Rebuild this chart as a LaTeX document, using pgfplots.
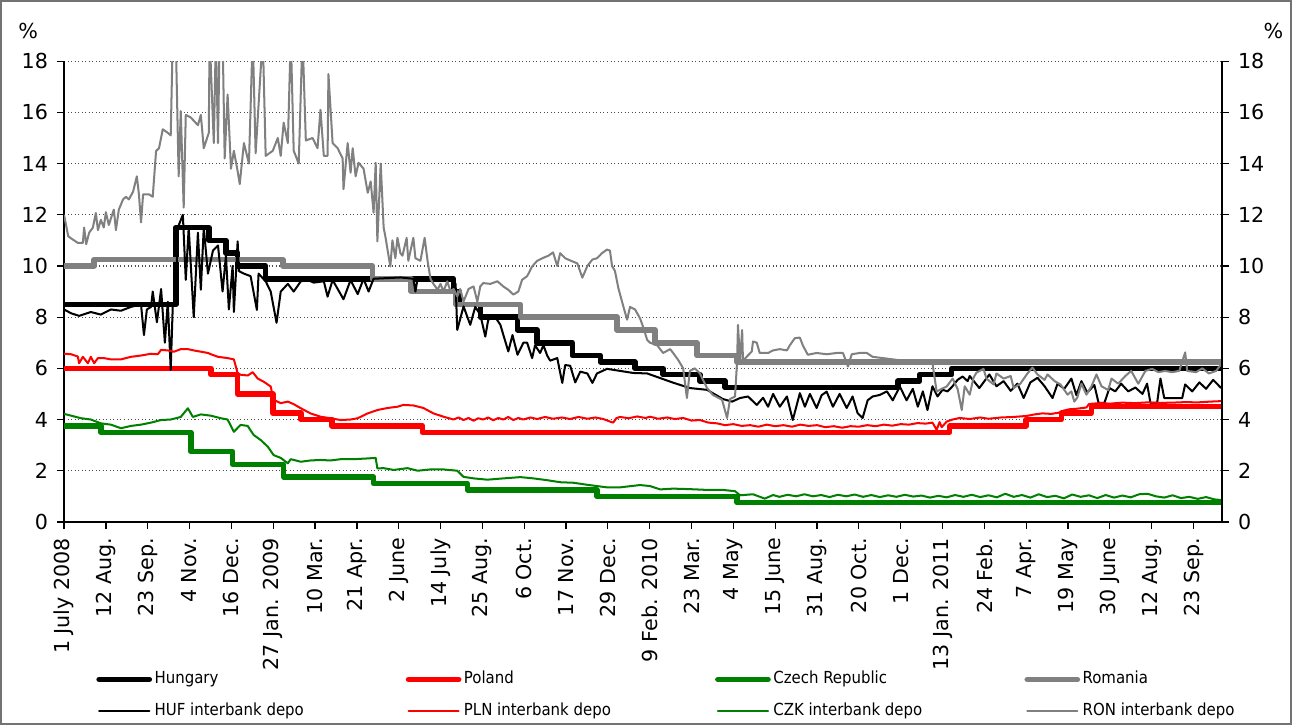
\documentclass[border=0pt]{standalone}
\usepackage{pgfplots}
\pgfplotsset{compat=1.18}
\usepackage{fontspec}
\setmainfont{DejaVu Sans}
\newfontfamily\legfont{DejaVu Sans Condensed}
\definecolor{czg}{RGB}{0,128,0}
\definecolor{rog}{RGB}{128,128,128}
\pgfplotsset{
  base/.style={scale only axis, width=16.16cm, height=6.43cm,
    xmin=0, xmax=27.68, ymin=0, ymax=18, ytick={0,2,...,18},
    tick align=outside, major tick length=0.1cm,
    tick style={black, line width=0.5pt}, axis line style={line width=0.6pt},
    ticklabel style={font=\fontsize{8.2}{9.5}\selectfont},
    /pgf/number format/assume math mode=true}
}
\begin{document}
\begin{tikzpicture}
\begin{axis}[base, axis x line*=bottom, axis y line*=left,
  ymajorgrids, grid style={densely dotted, black!70, line width=0.5pt},
  xtick={0,...,27},
  xticklabels={1 July 2008, 12 Aug., 23 Sep., 4 Nov., 16 Dec., 27 Jan. 2009, 10 Mar., 21 Apr., 2 June, 14 July, 25 Aug., 6 Oct., 17 Nov., 29 Dec., 9 Feb. 2010, 23 Mar., 4 May, 15 June, 31 Aug., 20 Oct., 1 Dec., 13 Jan. 2011, 24 Feb., 7 Apr., 19 May, 30 June, 12 Aug., 23 Sep.},
  xticklabel style={rotate=90, anchor=east},
  no markers, line join=round,
  legend columns=4, legend cell align=left,
  legend image code/.code={\draw[#1, line cap=round] (0cm,0cm) -- (0.7cm,0cm);},
  legend style={at={(0.0275,-0.3765)}, anchor=west, draw=none, fill=none,
    inner sep=0pt, row sep=4.15pt, font=\legfont\fontsize{6.6}{7.5}\selectfont,
    nodes={inner sep=1pt, text height=5pt, text depth=1.5pt}},
]
% policy rates
\addplot[black, line width=2.2pt, const plot] coordinates {(0,8.5)(2.67,11.5)(3.46,11)(3.87,10.5)(4.15,10)(4.82,9.5)(9.31,9)(9.45,8.5)(9.95,8)(10.84,7.5)(11.31,7)(12.15,6.5)(12.82,6.25)(13.65,6)(14.32,5.75)(15.2,5.5)(15.8,5.25)(19.93,5.5)(20.45,5.75)(21.22,6)(27.68,6)};
\addlegendentry{\makebox[3.47cm][l]{Hungary}}
\addplot[red, line width=2.2pt, const plot] coordinates {(0,6)(3.51,5.75)(4.15,5)(4.99,4.25)(5.66,4)(6.4,3.75)(8.57,3.5)(21.17,3.75)(23.0,4)(23.84,4.25)(24.56,4.5)(27.68,4.5)};
\addlegendentry{\makebox[3.47cm][l]{Poland}}
\addplot[czg, line width=2.2pt, const plot] coordinates {(0,3.75)(0.88,3.5)(3.03,2.75)(4.03,2.25)(5.25,1.75)(7.4,1.5)(9.64,1.25)(12.74,1.0)(16.09,0.75)(27.68,0.75)};
\addlegendentry{\makebox[3.47cm][l]{Czech Republic}}
\addplot[rog, line width=2.2pt, const plot] coordinates {(0,10)(0.72,10.25)(5.23,10)(7.37,9.5)(8.3,9)(9.36,8.5)(10.91,8)(13.22,7.5)(14.13,7)(15.13,6.5)(16.09,6.25)(27.68,6.25)};
\addlegendentry{Romania}
% interbank deposit rates
\addplot[black, line width=0.8pt] coordinates {(0,8.3)(0.17,8.15)(0.36,8.05)(0.64,8.2)(0.88,8.1)(1.12,8.3)(1.36,8.25)(1.60,8.4)(1.84,8.5)(1.91,7.3)(1.98,8.3)(2.08,8.4)(2.12,9.0)(2.22,7.8)(2.32,9.1)(2.41,7.0)(2.48,8.6)(2.55,5.94)(2.60,8.5)(2.67,8.5)(2.72,11.5)(2.84,12.0)(2.91,9.46)(2.98,11.5)(3.10,8.0)(3.20,11.3)(3.27,9.07)(3.34,11.5)(3.44,9.7)(3.56,10.6)(3.68,10.8)(3.79,9.0)(3.87,10.4)(3.94,8.3)(4.03,10.0)(4.06,8.2)(4.15,10.96)(4.18,9.8)(4.30,9.7)(4.46,9.6)(4.61,8.28)(4.65,9.7)(4.82,9.4)(4.94,9.0)(5.08,7.78)(5.18,9.0)(5.35,9.3)(5.49,9.0)(5.66,9.4)(5.82,9.45)(5.97,9.35)(6.21,9.4)(6.30,8.8)(6.42,9.45)(6.68,8.7)(6.85,9.45)(7.02,8.9)(7.16,9.5)(7.28,9.0)(7.40,9.5)(8.04,9.55)(8.35,9.5)(8.40,9.0)(8.45,9.5)(9.24,9.5)(9.36,9.3)(9.40,7.5)(9.55,8.42)(9.71,7.7)(9.83,8.4)(9.95,8.1)(10.07,7.24)(10.14,7.9)(10.31,8.0)(10.43,7.7)(10.62,6.66)(10.72,7.3)(10.84,6.53)(10.98,7.0)(11.07,7.0)(11.19,6.4)(11.26,6.9)(11.38,6.6)(11.46,6.9)(11.55,6.5)(11.62,6.3)(11.79,6.4)(11.91,5.43)(11.98,6.13)(12.10,6.1)(12.22,5.45)(12.34,5.87)(12.51,5.8)(12.63,5.43)(12.74,5.8)(12.98,5.98)(13.29,5.9)(13.60,5.82)(13.94,5.8)(14.56,5.44)(14.96,5.23)(15.37,5.16)(15.75,4.8)(15.97,4.7)(16.16,4.84)(16.35,4.9)(16.56,4.57)(16.71,4.85)(16.83,4.5)(16.95,5.0)(17.11,4.5)(17.28,4.9)(17.42,3.98)(17.59,5.03)(17.71,4.5)(17.83,5.0)(17.99,4.45)(18.11,4.95)(18.23,5.09)(18.38,4.5)(18.54,5.0)(18.71,4.45)(18.85,4.9)(18.97,4.25)(19.09,4.06)(19.21,4.75)(19.33,4.9)(19.50,4.96)(19.67,5.1)(19.81,4.75)(19.98,5.29)(20.14,4.75)(20.29,5.2)(20.41,4.5)(20.53,5.1)(20.64,4.37)(20.76,5.3)(20.88,4.9)(21.00,5.16)(21.12,5.1)(21.24,5.3)(21.36,5.55)(21.48,5.68)(21.60,5.5)(21.65,5.7)(21.88,5.23)(22.12,5.76)(22.29,5.3)(22.46,5.5)(22.63,5.12)(22.79,5.4)(22.94,4.84)(23.10,5.45)(23.27,5.63)(23.44,5.3)(23.63,4.84)(23.75,5.4)(23.91,5.2)(24.08,5.6)(24.20,4.95)(24.32,5.5)(24.46,5.05)(24.63,5.35)(24.73,4.65)(24.87,4.65)(24.99,5.23)(25.13,5.1)(25.27,5.4)(25.44,5.1)(25.61,5.25)(25.78,5.0)(25.89,5.4)(25.97,4.65)(26.13,4.65)(26.21,5.6)(26.30,4.84)(26.73,4.84)(26.80,5.37)(26.97,5.1)(27.14,5.45)(27.30,5.2)(27.47,5.55)(27.66,5.23)};
\addlegendentry{\makebox[3.47cm][l]{HUF interbank depo}}
\addplot[red, line width=0.8pt] coordinates {(0,6.57)(0.17,6.55)(0.33,6.46)(0.36,6.2)(0.45,6.45)(0.57,6.2)(0.64,6.45)(0.72,6.2)(0.81,6.4)(0.95,6.4)(1.12,6.35)(1.36,6.35)(1.60,6.45)(1.84,6.5)(2.08,6.57)(2.24,6.55)(2.32,6.72)(2.48,6.7)(2.63,6.65)(2.79,6.75)(2.96,6.75)(3.10,6.7)(3.27,6.65)(3.44,6.6)(3.51,6.55)(3.68,6.45)(3.91,6.4)(4.06,6.35)(4.15,5.81)(4.22,5.75)(4.39,5.72)(4.51,5.85)(4.63,5.6)(4.77,5.48)(4.94,5.29)(5.01,4.77)(5.18,4.64)(5.35,4.7)(5.49,4.6)(5.66,4.44)(5.89,4.24)(6.13,4.11)(6.37,4.05)(6.61,3.98)(6.85,4.0)(7.02,4.05)(7.26,4.24)(7.49,4.37)(7.73,4.45)(7.97,4.5)(8.11,4.57)(8.35,4.55)(8.59,4.45)(8.83,4.24)(9.07,4.11)(9.31,4.0)(9.43,4.08)(9.55,3.98)(9.67,4.06)(9.79,3.95)(9.9,4.05)(10.02,4.0)(10.14,4.08)(10.26,3.97)(10.38,4.06)(10.5,4.0)(10.62,4.1)(10.74,3.98)(10.86,4.06)(10.98,4.0)(11.15,4.08)(11.31,4.02)(11.5,4.1)(11.69,4.03)(11.9,4.08)(12.1,4.02)(12.3,4.1)(12.51,4.03)(12.7,4.08)(12.89,4.02)(13.05,3.92)(13.13,3.88)(13.2,4.05)(13.29,4.1)(13.5,4.05)(13.7,4.12)(13.9,4.06)(14.01,4.11)(14.2,4.03)(14.42,4.08)(14.6,4.02)(14.8,4.06)(15.0,3.96)(15.2,3.98)(15.4,3.88)(15.61,3.85)(15.8,3.78)(16.0,3.82)(16.2,3.75)(16.4,3.78)(16.6,3.72)(16.8,3.8)(17.0,3.74)(17.2,3.78)(17.4,3.72)(17.6,3.8)(17.8,3.75)(18.0,3.78)(18.2,3.7)(18.4,3.74)(18.6,3.68)(18.8,3.74)(19.0,3.72)(19.2,3.78)(19.4,3.74)(19.6,3.8)(19.8,3.76)(20.0,3.82)(20.2,3.8)(20.4,3.86)(20.6,3.84)(20.76,3.88)(20.86,3.6)(20.93,3.9)(20.98,3.7)(21.10,3.92)(21.24,4.0)(21.41,4.06)(21.65,4.02)(21.9,4.08)(22.1,4.03)(22.4,4.08)(22.7,4.1)(23.01,4.14)(23.2,4.2)(23.39,4.24)(23.6,4.22)(23.79,4.27)(23.9,4.35)(24.03,4.4)(24.2,4.42)(24.44,4.47)(24.5,4.6)(24.58,4.62)(24.8,4.64)(25.0,4.62)(25.3,4.66)(25.6,4.64)(25.9,4.67)(26.2,4.65)(26.5,4.66)(26.8,4.68)(27.1,4.67)(27.4,4.7)(27.68,4.72)};
\addlegendentry{\makebox[3.47cm][l]{PLN interbank depo}}
\addplot[czg, line width=0.8pt] coordinates {(0,4.22)(0.17,4.15)(0.41,4.05)(0.64,4.0)(0.88,3.85)(1.12,3.8)(1.36,3.66)(1.60,3.75)(1.84,3.8)(2.08,3.88)(2.32,3.98)(2.55,4.0)(2.79,4.1)(2.96,4.44)(3.08,4.1)(3.27,4.2)(3.51,4.15)(3.75,4.05)(3.91,4.0)(4.06,3.52)(4.22,3.79)(4.39,3.75)(4.53,3.4)(4.70,3.2)(4.87,2.94)(5.01,2.61)(5.18,2.5)(5.35,2.29)(5.42,2.45)(5.66,2.35)(5.89,2.4)(6.13,2.42)(6.37,2.4)(6.61,2.45)(6.92,2.45)(7.26,2.48)(7.45,2.5)(7.49,2.09)(7.64,2.1)(7.88,2.03)(8.21,2.1)(8.45,2.0)(8.76,2.05)(9.07,2.05)(9.40,2.0)(9.55,1.76)(9.79,1.7)(10.12,1.65)(10.50,1.7)(10.91,1.75)(11.22,1.7)(11.55,1.63)(11.86,1.55)(12.17,1.53)(12.51,1.45)(12.74,1.4)(12.98,1.35)(13.29,1.35)(13.77,1.44)(14.01,1.4)(14.25,1.27)(14.56,1.3)(14.96,1.28)(15.37,1.25)(15.75,1.25)(16.04,1.2)(16.16,1.04)(16.47,1.08)(16.75,0.91)(16.95,1.05)(17.1,0.98)(17.3,1.06)(17.5,1.0)(17.7,1.08)(17.9,1.0)(18.1,1.05)(18.3,0.97)(18.5,1.06)(18.7,1.0)(18.9,1.07)(19.1,0.98)(19.3,1.05)(19.5,0.97)(19.7,1.04)(19.9,0.98)(20.1,1.06)(20.3,0.99)(20.5,1.03)(20.7,0.95)(20.9,1.02)(21.1,0.96)(21.3,1.05)(21.5,0.98)(21.7,1.06)(21.9,0.97)(22.1,1.04)(22.3,0.96)(22.5,1.1)(22.7,0.98)(22.9,1.05)(23.1,0.95)(23.3,1.08)(23.5,0.97)(23.7,1.02)(23.9,0.92)(24.1,1.07)(24.3,0.98)(24.5,1.04)(24.7,0.93)(24.9,1.05)(25.1,0.95)(25.3,1.03)(25.5,0.96)(25.7,1.08)(25.9,1.1)(26.1,1.0)(26.3,0.95)(26.5,1.04)(26.7,0.93)(26.9,0.98)(27.1,0.9)(27.3,0.97)(27.5,0.88)(27.68,0.85)};
\addlegendentry{\makebox[3.47cm][l]{CZK interbank depo}}
\addplot[rog, line width=0.8pt] coordinates {(0,12.0)(0.10,11.16)(0.21,11.03)(0.33,10.9)(0.45,10.9)(0.48,11.5)(0.53,10.85)(0.60,11.3)(0.69,11.5)(0.76,12.07)(0.81,11.4)(0.88,11.8)(0.95,11.5)(1.00,12.1)(1.07,11.6)(1.19,12.2)(1.24,11.4)(1.31,12.2)(1.41,12.6)(1.48,12.7)(1.55,12.6)(1.65,12.9)(1.74,13.5)(1.79,12.8)(1.84,11.7)(1.89,12.8)(2.03,12.8)(2.12,12.7)(2.20,14.49)(2.27,14.6)(2.36,15.34)(2.48,15.2)(2.55,15.1)(2.60,19)(2.67,19)(2.74,13.5)(2.79,16.05)(2.86,12.28)(2.91,15.9)(3.03,15.8)(3.20,15.5)(3.27,15.9)(3.34,14.6)(3.46,15.2)(3.48,19)(3.58,14.8)(3.63,19)(3.68,14.8)(3.72,19)(3.79,19)(3.84,14.2)(3.91,16.7)(3.99,13.8)(4.06,14.5)(4.15,13.7)(4.20,13.2)(4.30,14.8)(4.42,14.0)(4.51,19)(4.58,14.4)(4.75,19)(4.82,14.3)(4.99,14.5)(5.11,15.0)(5.18,14.3)(5.25,15.6)(5.35,14.8)(5.42,19)(5.49,14.5)(5.61,14.0)(5.70,19)(5.78,14.9)(5.94,15.0)(6.06,14.6)(6.13,16.1)(6.21,14.3)(6.30,14.3)(6.32,17.5)(6.42,14.8)(6.54,14.6)(6.66,14.2)(6.68,13.0)(6.78,14.8)(6.85,13.64)(6.90,14.6)(6.97,13.5)(7.04,14.03)(7.16,13.8)(7.26,12.86)(7.33,13.3)(7.40,12.08)(7.45,14.03)(7.49,10.96)(7.57,14.0)(7.64,11.5)(7.68,11.16)(7.80,9.98)(7.85,11.0)(7.92,10.3)(7.97,11.1)(8.04,10.5)(8.09,10.4)(8.19,11.1)(8.23,10.2)(8.35,11.1)(8.40,10.3)(8.52,10.2)(8.62,11.1)(8.69,10.2)(8.76,9.5)(8.83,9.3)(8.93,9.07)(9.00,9.3)(9.07,9.0)(9.16,9.4)(9.24,9.0)(9.31,9.1)(9.40,8.81)(9.47,9.1)(9.55,8.61)(9.67,9.1)(9.79,9.2)(9.88,8.6)(9.95,9.2)(10.02,9.33)(10.19,9.3)(10.36,9.4)(10.50,9.2)(10.62,9.07)(10.74,8.88)(10.86,9.0)(10.95,9.46)(11.07,9.6)(11.19,9.98)(11.31,10.2)(11.46,10.32)(11.58,10.4)(11.69,10.53)(11.79,10.0)(11.86,10.5)(11.98,10.3)(12.15,10.18)(12.27,10.1)(12.39,9.54)(12.51,10.0)(12.63,10.25)(12.74,10.3)(12.86,10.5)(12.98,10.64)(13.05,10.6)(13.10,10.0)(13.17,9.8)(13.25,9.14)(13.37,8.42)(13.46,7.9)(13.53,8.4)(13.65,8.3)(13.77,7.95)(13.84,7.63)(13.94,7.11)(14.01,7.0)(14.18,6.9)(14.32,6.6)(14.49,6.75)(14.56,6.6)(14.68,6.33)(14.80,6.0)(14.89,4.84)(14.96,5.9)(15.08,6.0)(15.20,5.8)(15.37,5.23)(15.51,4.96)(15.73,4.77)(15.85,4.06)(15.92,4.8)(16.04,4.9)(16.09,6.3)(16.11,7.7)(16.16,6.3)(16.21,7.5)(16.23,6.3)(16.44,6.66)(16.47,7.05)(16.56,7.0)(16.63,6.6)(16.83,6.6)(16.95,6.7)(17.11,6.75)(17.28,6.7)(17.35,6.9)(17.47,7.18)(17.59,7.2)(17.66,6.9)(17.78,6.53)(17.99,6.6)(18.23,6.55)(18.47,6.6)(18.62,6.6)(18.74,6.07)(18.83,6.55)(19.02,6.6)(19.19,6.6)(19.33,6.45)(19.57,6.4)(19.81,6.35)(20.05,6.3)(20.29,6.25)(20.53,6.2)(20.76,6.2)(20.86,5.09)(20.98,5.2)(21.10,5.29)(21.24,5.6)(21.36,5.2)(21.46,4.37)(21.53,5.3)(21.65,4.97)(21.74,5.63)(21.81,5.83)(21.98,5.98)(22.05,5.6)(22.22,5.37)(22.29,5.8)(22.46,5.6)(22.63,5.7)(22.70,5.23)(22.86,5.4)(23.03,5.8)(23.15,6.03)(23.27,5.76)(23.44,5.55)(23.51,5.76)(23.68,5.5)(23.82,5.37)(23.99,4.97)(24.08,5.1)(24.15,4.7)(24.22,4.85)(24.32,5.4)(24.44,4.97)(24.56,5.3)(24.68,5.76)(24.80,5.3)(24.96,5.15)(25.04,5.6)(25.20,5.4)(25.37,5.7)(25.51,5.9)(25.68,5.4)(25.85,5.9)(26.01,5.98)(26.16,5.85)(26.32,5.9)(26.49,5.85)(26.66,5.9)(26.80,6.62)(26.85,5.9)(27.06,5.85)(27.21,6.0)(27.37,5.8)(27.54,5.9)(27.68,6.2)};
\addlegendentry{RON interbank depo}
\end{axis}
\begin{axis}[base, axis x line=none, axis y line*=right]
\end{axis}
\node[font=\fontsize{8.2}{9.5}\selectfont] at (-0.5,6.85) {\%};
\node[font=\fontsize{8.2}{9.5}\selectfont] at (16.88,6.85) {\%};
\draw[black!55, line width=0.9pt] (-0.878,-2.818) rectangle (17.122,7.268);
\end{tikzpicture}
\end{document}
